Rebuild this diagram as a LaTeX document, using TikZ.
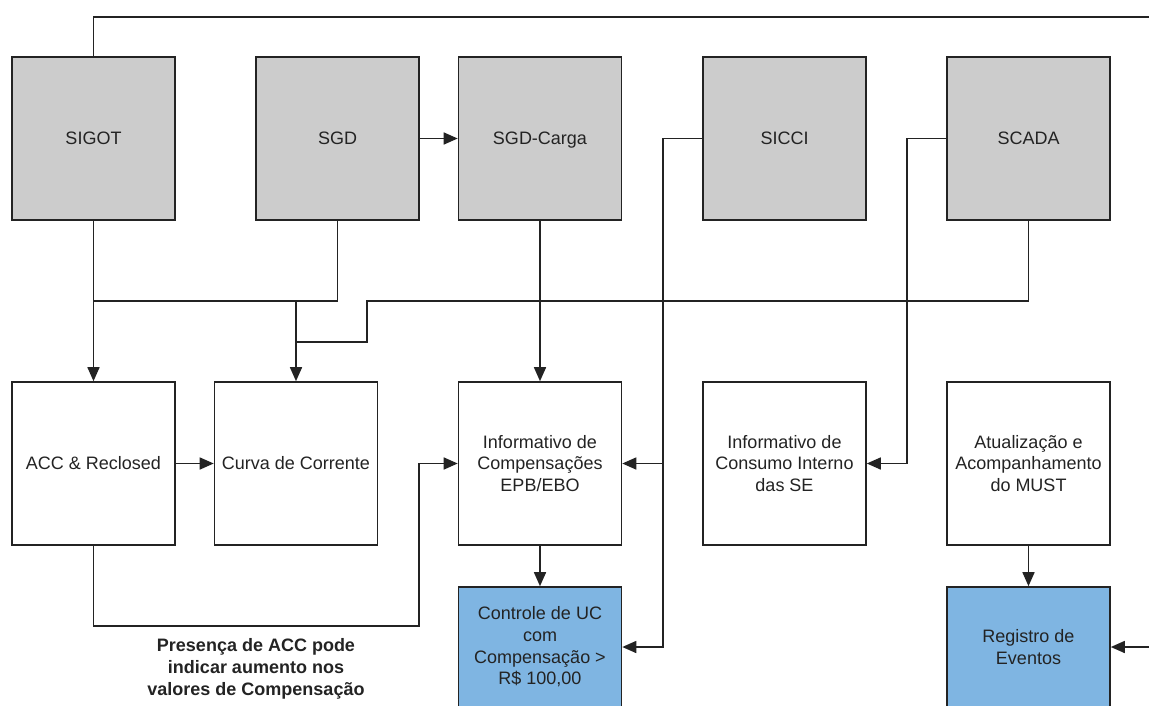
\documentclass[tikz,border=0pt]{standalone}
\usepackage{fontspec}
\setmainfont{Liberation Sans}
\usetikzlibrary{arrows.meta}
\definecolor{boxgray}{RGB}{204,204,204}
\definecolor{boxblue}{RGB}{127,181,226}
\definecolor{ink}{RGB}{35,35,35}
\tikzset{
  sysbox/.style={draw=ink, line width=1.6pt, fill=boxgray, minimum width=163pt, minimum height=163pt, inner sep=0pt, align=center, text=ink, font=\fontsize{18}{21.7}\selectfont},
  procbox/.style={sysbox, fill=white},
  outbox/.style={sysbox, fill=boxblue, minimum height=120pt},
  conn/.style={draw=ink, line width=1.6pt},
  arr/.style={conn, -{Triangle[length=14pt,width=12pt]}},
}
\begin{document}
\begin{tikzpicture}[x=1pt,y=-1pt]
\useasboundingbox (0,0) rectangle (1149,706);
\clip (0,0) rectangle (1149,706);
% top row
\node[sysbox] (sigot) at (93.5,138.5) {SIGOT};
\node[sysbox] (sgd) at (337.5,138.5) {SGD};
\node[sysbox, text depth=0pt] (carga) at (540,138.5) {SGD-Carga};
\node[sysbox] (sicci) at (784.5,138.5) {SICCI};
\node[sysbox] (scada) at (1028.5,138.5) {SCADA};
% middle row
\node[procbox] (acc) at (93.5,463.5) {ACC \& Reclosed};
\node[procbox] (curva) at (296,463.5) {Curva de Corrente};
\node[procbox] (infocomp) at (540,463.5) {Informativo de\\Compensações\\EPB/EBO};
\node[procbox] (infocons) at (784.5,463.5) {Informativo de\\Consumo Interno\\das SE};
\node[procbox] (must) at (1028.5,463.5) {Atualização e\\Acompanhamento\\do MUST};
% bottom row
\node[outbox] (ctrl) at (540,647) {Controle de UC\\com\\Compensação >\\R\$ 100,00};
\node[outbox] (reg) at (1028.5,647) {Registro de\\Eventos};
% label
\node[align=center, text=ink, font=\bfseries\fontsize{18}{22}\selectfont] (note) at (256,669) {Presença de ACC pode\\indicar aumento nos\\valores de Compensação};
% helper coordinates
\coordinate (topL) at (93.5,17);
\coordinate (topR) at (1165,17);
\coordinate (edgeR) at (1165,647);
\coordinate (j1) at (337.5,301);
\coordinate (j2) at (93.5,301);
\coordinate (j3) at (296,301);
\coordinate (s1) at (1028.5,301);
\coordinate (s2) at (367,301);
\coordinate (s3) at (367,342);
\coordinate (s4) at (296,342);
\coordinate (c1) at (663,138.5);
\coordinate (c2) at (663,647);
\coordinate (c3) at (663,463.5);
\coordinate (d1) at (907,138.5);
\coordinate (d2) at (907,463.5);
\coordinate (a1) at (93.5,626);
\coordinate (a2) at (419,626);
\coordinate (a3) at (419,463.5);
% connectors
\draw[arr] (sigot.north) -- (topL) -- (topR) -- (edgeR) -- (reg.east);
\draw[arr] (sgd.east) -- (carga.west);
\draw[arr] (sicci.west) -- (c1) -- (c2) -- (ctrl.east);
\draw[arr] (c3) -- (infocomp.east);
\draw[arr] (scada.west) -- (d1) -- (d2) -- (infocons.east);
\draw[arr] (sigot.south) -- (acc.north);
\draw[conn] (sgd.south) -- (j1) -- (j2);
\draw[arr] (j3) -- (curva.north);
\draw[conn] (scada.south) -- (s1) -- (s2) -- (s3) -- (s4);
\draw[arr] (carga.south) -- (infocomp.north);
\draw[arr] (acc.east) -- (curva.west);
\draw[arr] (acc.south) -- (a1) -- (a2) -- (a3) -- (infocomp.west);
\draw[arr] (infocomp.south) -- (ctrl.north);
\draw[arr] (must.south) -- (reg.north);
\end{tikzpicture}
\end{document}
